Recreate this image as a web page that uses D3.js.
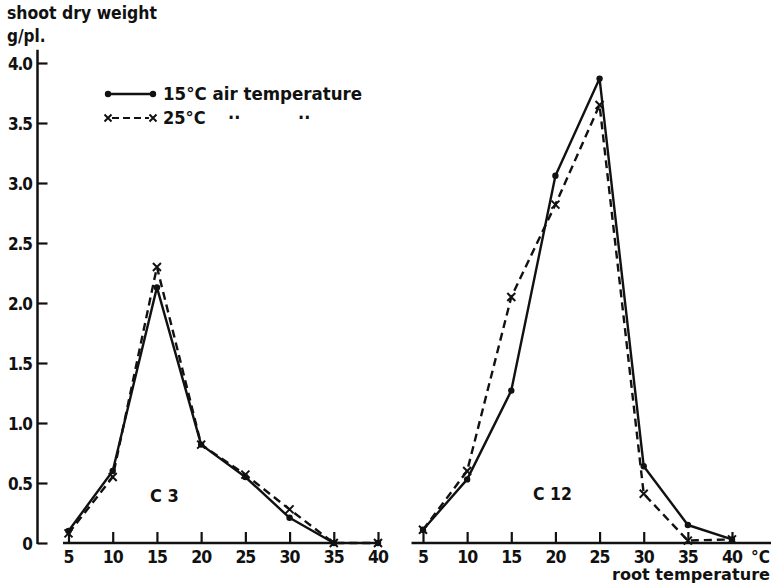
<!DOCTYPE html>
<html>
<head>
<meta charset="utf-8">
<script src="https://cdn.jsdelivr.net/npm/d3@7"></script>
<style>
  html, body { margin: 0; padding: 0; background: #fff; }
  svg { display: block; }
  text { font-family: "DejaVu Sans Condensed", "DejaVu Sans", sans-serif; font-weight: bold; fill: #111; }
</style>
</head>
<body>
<svg id="chart" width="771" height="584"></svg>
<script>
// Root temperature (°C) at which shoot dry weight was measured
const rootTemps = [5, 10, 15, 20, 25, 30, 35, 40];

// Shoot dry weight, g per plant — cultivar C 3
const c3Air15 = [0.10, 0.60, 2.13, 0.82, 0.55, 0.21, 0.00, 0.00];
const c3Air25 = [0.08, 0.55, 2.30, 0.82, 0.57, 0.28, 0.00, 0.00];

// Shoot dry weight, g per plant — cultivar C 12
const c12Air15 = [0.11, 0.53, 1.27, 3.06, 3.87, 0.64, 0.15, 0.03];
const c12Air25 = [0.11, 0.60, 2.05, 2.82, 3.65, 0.41, 0.02, 0.03];

// Axis ticks
const yTicks = [0, 0.5, 1.0, 1.5, 2.0, 2.5, 3.0, 3.5, 4.0];
const yTickLabels = ["0", "0.5", "1.0", "1.5", "2.0", "2.5", "3.0", "3.5", "4.0"];
const xTicks = [5, 10, 15, 20, 25, 30, 35, 40];

const svg = d3.select("#chart");
const ink = "#111";

const y = d3.scaleLinear().domain([0, 4]).range([543, 63]);
const xLeft = d3.scaleLinear().domain([5, 40]).range([68.5, 378]);
const xRight = d3.scaleLinear().domain([5, 40]).range([423, 732]);

// ---- y axis (shared, drawn at left) ----
const yAxisX = 37.5;
const yAxis = d3.axisRight(y)
  .tickValues(yTicks)
  .tickSize(10)
  .tickFormat("");
const gy = svg.append("g").attr("transform", `translate(${yAxisX},0)`).call(yAxis);
gy.select(".domain").remove();
gy.selectAll(".tick line").attr("stroke", ink).attr("stroke-width", 2.2);
gy.append("line")
  .attr("x1", 0).attr("x2", 0)
  .attr("y1", y(4.11)).attr("y2", y(0) + 1)
  .attr("stroke", ink).attr("stroke-width", 2.5);
svg.append("g").selectAll("text")
  .data(yTicks)
  .join("text")
  .attr("x", 32)
  .attr("y", d => y(d) + 6.5)
  .attr("text-anchor", "end")
  .attr("font-size", 17)
  .attr("letter-spacing", -1)
  .text((d, i) => yTickLabels[i]);

// ---- x axes for both panels ----
function drawXAxis(x, from, to) {
  const ax = d3.axisBottom(x).tickValues(xTicks).tickSize(0).tickFormat("");
  const g = svg.append("g").attr("transform", `translate(0,${y(0)})`).call(ax);
  g.select(".domain").remove();
  g.selectAll(".tick").append("line")
    .attr("y1", 0).attr("y2", -11)
    .attr("stroke", ink).attr("stroke-width", 2.2);
  g.append("line")
    .attr("x1", x(from)).attr("x2", x(to))
    .attr("y1", 0).attr("y2", 0)
    .attr("stroke", ink).attr("stroke-width", 2.5);
  svg.append("g").selectAll("text")
    .data(xTicks)
    .join("text")
    .attr("x", d => x(d))
    .attr("y", 563)
    .attr("text-anchor", "middle")
    .attr("font-size", 17.5)
    .attr("letter-spacing", -1)
    .text(d => d);
}
drawXAxis(xLeft, 4.38, 35);
drawXAxis(xRight, 3.7, 45.4);

// ---- data series ----
const seriesLine = (x) => d3.line().x((d, i) => x(rootTemps[i])).y(d => y(d));

function drawSeries(x, values, dashed) {
  svg.append("path")
    .datum(values)
    .attr("d", seriesLine(x))
    .attr("fill", "none")
    .attr("stroke", ink)
    .attr("stroke-width", 2.4)
    .attr("stroke-linejoin", "round")
    .attr("stroke-dasharray", dashed ? "8,5" : null);
  const pts = svg.append("g");
  if (dashed) {
    pts.selectAll("path")
      .data(values)
      .join("path")
      .attr("transform", (d, i) => `translate(${x(rootTemps[i])},${y(d)})`)
      .attr("d", "M-4,-4L4,4M-4,4L4,-4")
      .attr("stroke", ink)
      .attr("stroke-width", 2);
  } else {
    pts.selectAll("circle")
      .data(values)
      .join("circle")
      .attr("cx", (d, i) => x(rootTemps[i]))
      .attr("cy", d => y(d))
      .attr("r", 3.2)
      .attr("fill", ink);
  }
}
drawSeries(xLeft, c3Air15, false);
drawSeries(xLeft, c3Air25, true);
drawSeries(xRight, c12Air15, false);
drawSeries(xRight, c12Air25, true);

// ---- panel labels ----
svg.append("text").attr("x", 150).attr("y", 502).attr("font-size", 18).text("C 3");
svg.append("text").attr("x", 533).attr("y", 500).attr("font-size", 18)
  .attr("textLength", 39).attr("lengthAdjust", "spacingAndGlyphs").text("C 12");

// ---- axis titles ----
svg.append("text").attr("x", 7).attr("y", 19).attr("font-size", 17)
  .attr("textLength", 150).attr("lengthAdjust", "spacingAndGlyphs").text("shoot dry weight");
svg.append("text").attr("x", 7).attr("y", 42).attr("font-size", 17).text("g/pl.");
svg.append("text").attr("x", 751).attr("y", 563).attr("font-size", 17).text("°C");
svg.append("text").attr("x", 612).attr("y", 580).attr("font-size", 15)
  .attr("textLength", 158).attr("lengthAdjust", "spacingAndGlyphs").text("root temperature");

// ---- legend ----
const legend = svg.append("g");
legend.append("line").attr("x1", 108).attr("x2", 153).attr("y1", 94).attr("y2", 94)
  .attr("stroke", ink).attr("stroke-width", 2.4);
legend.selectAll("circle.l").data([108, 153]).join("circle")
  .attr("cx", d => d).attr("cy", 94).attr("r", 3.2).attr("fill", ink);
legend.append("text").attr("x", 163).attr("y", 100).attr("font-size", 18)
  .attr("textLength", 199).attr("lengthAdjust", "spacingAndGlyphs").text("15°C air temperature");

legend.append("line").attr("x1", 112).attr("x2", 149).attr("y1", 118).attr("y2", 118)
  .attr("stroke", ink).attr("stroke-width", 2.2).attr("stroke-dasharray", "7,4");
legend.selectAll("path.m").data([108, 153]).join("path")
  .attr("transform", d => `translate(${d},118)`)
  .attr("d", "M-3.5,-3.5L3.5,3.5M-3.5,3.5L3.5,-3.5")
  .attr("stroke", ink).attr("stroke-width", 2);
legend.append("text").attr("x", 163).attr("y", 124).attr("font-size", 18).text("25°C");
legend.append("text").attr("x", 228).attr("y", 124).attr("font-size", 18).text("··");
legend.append("text").attr("x", 298).attr("y", 124).attr("font-size", 18).text("··");
</script>
</body>
</html>
